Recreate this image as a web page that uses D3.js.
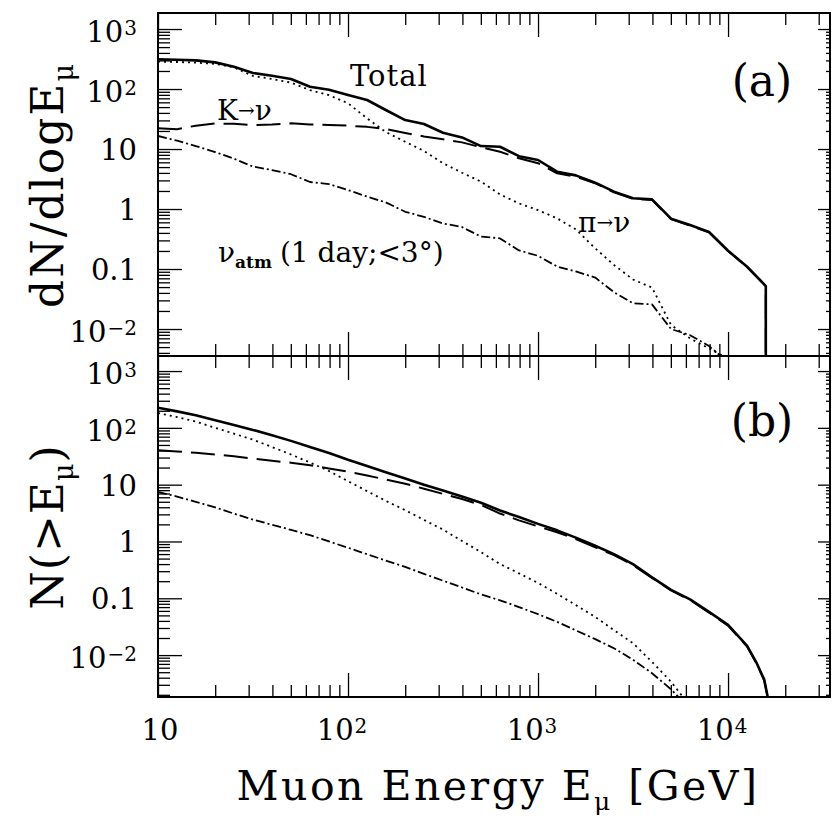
<!DOCTYPE html>
<html>
<head>
<meta charset="utf-8">
<script src="https://cdn.jsdelivr.net/npm/d3@7/dist/d3.min.js"></script>
<style>
  body { margin: 0; background: #fff; }
  svg { display: block; }
  text { font-family: "DejaVu Serif", serif; fill: #000; }
</style>
</head>
<body>
<div id="chart"></div>
<script>
// ---- data ----
// panel (a): dN/dlogE, energies in GeV (last point repeats to draw the cutoff)
const energyA = [10, 12.6, 15.8, 20, 25.1, 31.6, 39.8, 50.1, 63.1, 79.4, 100, 126, 158, 200, 251, 316, 398, 501, 631, 794,
  1000, 1260, 1580, 2000, 2510, 3160, 3980, 5010, 6310, 7940, 10000, 12600, 15800, 15800];
const totalA = [312, 308, 300, 278, 236, 185, 167, 147, 109, 97.5, 79.4, 65.6, 44.7, 30.4, 26.1, 18.7, 15.6, 11.2, 10.9, 7.6,
  6.56, 4.19, 3.64, 2.75, 1.95, 1.51, 1.45, 0.69, 0.54, 0.414, 0.202, 0.109, 0.052, 0.0001];
const pionA = [286, 282, 275, 263, 230, 165, 147, 128, 96, 79, 58, 32.4, 19.2, 13.2, 9.3, 5.8, 4.03, 2.86, 1.75, 1.24,
  0.96, 0.70, 0.458, 0.221, 0.117, 0.067, 0.049, 0.0117, 0.00698, 0.00476, 0.0032, null, null, null];
const kaonA = [22.1, 21.4, 24.5, 26.6, 26.3, 25.1, 25.7, 26.8, 25.7, 25.1, 24.5, 23.4, 21.5, 18.5, 16.2, 14.6, 12.9, 10.7, 9.0, 7.0,
  5.8, 3.93, 3.46, 2.68, 1.9, 1.48, 1.42, 0.68, 0.53, 0.41, 0.2, 0.108, 0.052, 0.0001];
const atmA = [16.5, 13.8, 11.2, 8.9, 6.9, 5.1, 4.47, 3.8, 2.82, 2.6, 2.07, 1.61, 1.29, 0.90, 0.74, 0.575, 0.50, 0.347, 0.324, 0.204,
  0.166, 0.11, 0.091, 0.072, 0.041, 0.0269, 0.0257, 0.0100, 0.0079, 0.0052, 0.0028, null, null, null];

// panel (b): N(>E)
const energyB = [10, 12.6, 15.8, 20, 25.1, 31.6, 39.8, 50.1, 63.1, 79.4, 100, 126, 158, 200, 251, 316, 398, 501, 631, 794,
  1000, 1260, 1580, 2000, 2510, 3160, 3980, 5010, 6310, 7940, 10000, 12600, 14100, 15500, 16200];
const totalB = [226, 195, 166, 136, 112, 92, 74, 59, 46, 36, 27.5, 21.4, 16.6, 12.8, 10, 7.9, 6.2, 4.8, 3.5, 2.7,
  2.04, 1.57, 1.17, 0.84, 0.60, 0.40, 0.234, 0.141, 0.0955, 0.0575, 0.034, 0.0145, 0.0074, 0.0037, 0.00178];
const pionB = [182, 155, 129, 100, 79, 62, 46, 34, 24.5, 17.4, 11.5, 7.7, 5.2, 3.55, 2.4, 1.62, 1.02, 0.65, 0.40, 0.275,
  0.186, 0.12, 0.076, 0.047, 0.0275, 0.0162, 0.0076, 0.0034, 0.00126, null, null, null, null, null, null];
const kaonB = [40.3, 38.5, 36.3, 33.9, 31.6, 28.8, 26.3, 24.3, 21.9, 19.3, 17, 14.5, 12.3, 10.4, 8.5, 6.9, 5.6, 4.4, 3.1, 2.35,
  1.84, 1.45, 1.10, 0.79, 0.575, 0.384, 0.228, 0.138, 0.093, 0.056, 0.033, 0.0141, 0.0072, 0.0036, 0.00174];
const atmB = [7.45, 6.17, 5.0, 3.98, 3.09, 2.43, 1.97, 1.60, 1.29, 1.0, 0.776, 0.596, 0.462, 0.357, 0.269, 0.204, 0.155, 0.117, 0.092, 0.070,
  0.0525, 0.0385, 0.0272, 0.0191, 0.0132, 0.0083, 0.0048, 0.0025, 0.00112, null, null, null, null, null, null];

// tick labels
const xTickValues = [10, 100, 1000, 10000];
const xTickLabels = [["10", ""], ["10", "2"], ["10", "3"], ["10", "4"]];
const yTickValues = [1000, 100, 10, 1, 0.1, 0.01];
const yTickLabels = [["10", "3"], ["10", "2"], ["10", ""], ["1", ""], ["0.1", ""], ["10", "\u22122"]];

// ---- layout ----
const width = 832, height = 822;
const left = 158, right = 830;
const topA = 13, mid = 356, botB = 697;

const svg = d3.select('#chart').append('svg')
  .attr('width', width).attr('height', height);

const x = d3.scaleLog().domain([10, 34400]).range([left, right]);
const yA = d3.scaleLog().domain([0.00355, 1850]).range([mid, topA]);
const yB = d3.scaleLog().domain([0.00183, 1840]).range([botB, mid]);

function logTicks(scale) {
  let [lo, hi] = scale.domain();
  let major = [], minor = [];
  for (let k = Math.floor(Math.log10(lo)); k <= Math.ceil(Math.log10(hi)); k++) {
    let p = Math.pow(10, k);
    if (p >= lo && p <= hi) major.push(p);
    for (let m = 2; m <= 9; m++) {
      let v = m * p;
      if (v >= lo && v <= hi) minor.push(v);
    }
  }
  return { major, minor };
}

const xt = logTicks(x);

function drawPanel(y, y0, y1, id, series, tag, tagY) {
  const g = svg.append('g');

  svg.append('clipPath').attr('id', id)
    .append('rect').attr('x', left).attr('y', y1).attr('width', right - left).attr('height', y0 - y1);

  const yt = logTicks(y);

  // ticks, all pointing inward
  const axes = [
    [d3.axisLeft(y), left, 0, yt, 24, 12],
    [d3.axisRight(y), right, 0, yt, 12, 4],
    [d3.axisTop(x), 0, y1, xt, 24, 12],
    [d3.axisBottom(x), 0, y0, xt, 24, 12],
  ];
  axes.forEach(([axis, tx, ty, t, big, small]) => {
    [[t.major, big], [t.minor, small]].forEach(([vals, len]) => {
      const a = g.append('g')
        .attr('transform', 'translate(' + tx + ',' + ty + ')')
        .call(axis.tickValues(vals).tickSize(-len).tickFormat(''));
      a.select('.domain').remove();
      a.selectAll('line').attr('stroke', '#000').attr('stroke-width', 1.3);
    });
  });

  // y tick labels
  yTickValues.forEach((v, i) => {
    const [base, exp] = yTickLabels[i];
    const t = g.append('text')
      .attr('x', 137)
      .attr('y', y(v) + (exp ? 13 : 11))
      .attr('text-anchor', 'end')
      .attr('font-size', 29);
    t.append('tspan').text(base);
    if (exp) t.append('tspan').attr('font-size', 20).attr('dy', -7).attr('dx', 1).text(exp);
  });

  // curves
  const line = d3.line()
    .defined(d => d[1] != null)
    .x(d => x(d[0]))
    .y(d => y(d[1]));

  const cg = g.append('g').attr('clip-path', 'url(#' + id + ')');
  series.forEach(s => {
    cg.append('path')
      .datum(s.energy.map((e, i) => [e, s.values[i]]))
      .attr('d', line)
      .attr('fill', 'none')
      .attr('stroke', '#000')
      .attr('stroke-width', s.w)
      .attr('stroke-dasharray', s.dash)
      .attr('stroke-linejoin', 'round');
  });

  // frame
  g.append('rect')
    .attr('x', left).attr('y', y1)
    .attr('width', right - left).attr('height', y0 - y1)
    .attr('fill', 'none').attr('stroke', '#000').attr('stroke-width', 2);

  g.append('text')
    .attr('x', 762).attr('y', tagY)
    .attr('text-anchor', 'middle')
    .attr('font-size', 44)
    .text(tag);

  return g;
}

const styles = {
  total: { w: 2.6, dash: null },
  pion: { w: 1.8, dash: '2,4' },
  kaon: { w: 2, dash: '24,9' },
  atm: { w: 1.8, dash: '9,3,2,3' },
};

const gA = drawPanel(yA, mid, topA, 'clipA', [
  Object.assign({ energy: energyA, values: pionA }, styles.pion),
  Object.assign({ energy: energyA, values: kaonA }, styles.kaon),
  Object.assign({ energy: energyA, values: atmA }, styles.atm),
  Object.assign({ energy: energyA, values: totalA }, styles.total),
], '(a)', 96);

const gB = drawPanel(yB, botB, mid, 'clipB', [
  Object.assign({ energy: energyB, values: pionB }, styles.pion),
  Object.assign({ energy: energyB, values: kaonB }, styles.kaon),
  Object.assign({ energy: energyB, values: atmB }, styles.atm),
  Object.assign({ energy: energyB, values: totalB }, styles.total),
], '(b)', 436);

// curve labels in panel (a)
gA.append('text').attr('x', 350).attr('y', 86).attr('font-size', 29).attr('letter-spacing', 1).text('Total');

let t = gA.append('text').attr('x', 217).attr('y', 120).attr('font-size', 28);
t.append('tspan').text('K');
t.append('tspan').attr('font-size', 20).attr('dy', -3).text('\u2192');
t.append('tspan').attr('dy', 3).text('\u03bd');

t = gA.append('text').attr('x', 578).attr('y', 232).attr('font-size', 28);
t.append('tspan').text('\u03c0');
t.append('tspan').attr('font-size', 20).attr('dy', -3).text('\u2192');
t.append('tspan').attr('dy', 3).text('\u03bd');

t = gA.append('text').attr('x', 218).attr('y', 262).attr('font-size', 28);
t.append('tspan').text('\u03bd');
t.append('tspan').attr('font-size', 17).attr('font-weight', 'bold').attr('dy', 6).text('atm');
t.append('tspan').attr('dy', -6).attr('dx', 8).text('(1 day;<3\u00b0)');

// x tick labels
xTickValues.forEach((v, i) => {
  const [base, exp] = xTickLabels[i];
  const tl = svg.append('text')
    .attr('x', x(v) + (exp ? -6 : 2))
    .attr('y', 740)
    .attr('text-anchor', 'middle')
    .attr('font-size', 29);
  tl.append('tspan').text(base);
  if (exp) tl.append('tspan').attr('font-size', 20).attr('dy', -7).attr('dx', 1).text(exp);
});

// axis titles
t = svg.append('text')
  .attr('x', 498).attr('y', 800)
  .attr('text-anchor', 'middle')
  .attr('font-size', 41)
  .attr('letter-spacing', 2.5);
t.append('tspan').text('Muon Energy E');
t.append('tspan').attr('font-size', 25).attr('dy', 10).text('\u03bc');
t.append('tspan').attr('dy', -10).text(' [GeV]');

t = svg.append('text')
  .attr('transform', 'translate(63,185) rotate(-90)')
  .attr('text-anchor', 'middle')
  .attr('font-size', 44)
  .attr('letter-spacing', 2);
t.append('tspan').text('dN/dlogE');
t.append('tspan').attr('font-size', 27).attr('dy', 10).text('\u03bc');

t = svg.append('text')
  .attr('transform', 'translate(63,527) rotate(-90)')
  .attr('text-anchor', 'middle')
  .attr('font-size', 44)
  .attr('letter-spacing', 1);
t.append('tspan').text('N(>E');
t.append('tspan').attr('font-size', 27).attr('dy', 10).text('\u03bc');
t.append('tspan').attr('dy', -10).text(')');
</script>
</body>
</html>
